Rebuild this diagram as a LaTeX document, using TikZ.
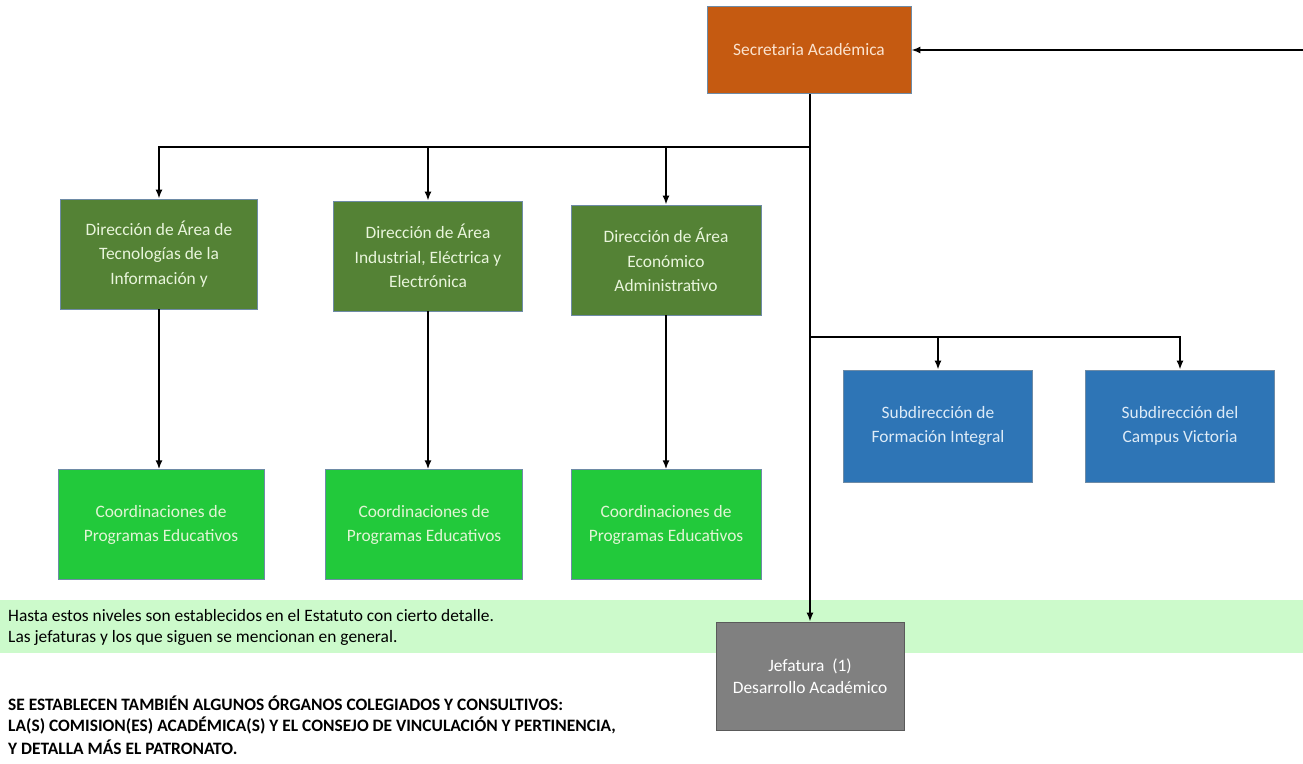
\documentclass[tikz,border=0pt]{standalone}
\usepackage{fontspec}
\setmainfont{Carlito}
\usetikzlibrary{arrows.meta, positioning, calc}
\definecolor{secorange}{HTML}{C55A11}
\definecolor{secfont}{HTML}{FBE3CF}
\definecolor{dirgreen}{HTML}{548235}
\definecolor{dirfont}{HTML}{E9F5DC}
\definecolor{coordgreen}{HTML}{22C93B}
\definecolor{coordfont}{HTML}{E2F5D5}
\definecolor{subblue}{HTML}{2E75B6}
\definecolor{subfont}{HTML}{DDEBF7}
\definecolor{jefgray}{HTML}{808080}
\definecolor{bandgreen}{HTML}{CCFACB}
\definecolor{boxedge}{HTML}{6E8BA6}

\begin{document}
\begin{tikzpicture}[x=1pt, y=-1pt,
        box/.style={draw=boxedge, line width=0.7pt, align=center, inner sep=0pt, font=\fontsize{17.4}{24.5}\selectfont},
        secbox/.style={box, fill=secorange, text=secfont, minimum width=204pt, minimum height=87pt},
        dirbox/.style={box, fill=dirgreen, text=dirfont, minimum height=110pt},
        coordbox/.style={box, fill=coordgreen, text=coordfont, minimum height=110pt},
        subbox/.style={box, fill=subblue, text=subfont, minimum width=189pt, minimum height=112pt},
        jefbox/.style={box, draw=jefgray!70!black, fill=jefgray, text=white, minimum width=188pt, minimum height=108pt, font=\fontsize{17.4}{22}\selectfont},
        link/.style={line width=1.8pt, -{Latex[length=9pt, width=7pt]}},
        note/.style={anchor=west, inner sep=0pt, font=\fontsize{17.4}{22}\selectfont}]
        \useasboundingbox (0,0) rectangle (1303,763);

        % band behind the lower part
        \fill [bandgreen] (0,600) rectangle (1303,653);
        \node [note] (n1) at (8,616) {Hasta estos niveles son establecidos en el Estatuto con cierto detalle.};
        \node [note] (n2) at (8,638) {Las jefaturas y los que siguen se mencionan en general.};

        \node [secbox] (sec) at (809,50) {Secretaria Académica};

        \node [dirbox, minimum width=197pt] (d1) at (159,254) {Dirección de Área de\\Tecnologías de la\\Información y};
        \node [dirbox, minimum width=189pt] (d2) at (428,256) {Dirección de Área\\Industrial, Eléctrica y\\Electrónica};
        \node [dirbox, minimum width=190pt] (d3) at (666,260) {Dirección de Área\\Económico\\Administrativo};

        \node [coordbox, minimum width=206pt, below=160pt of d1.south, anchor=north, xshift=2pt] (c1) {Coordinaciones de\\Programas Educativos};
        \node [coordbox, minimum width=197pt, below=158pt of d2.south, anchor=north, xshift=-4pt] (c2) {Coordinaciones de\\Programas Educativos};
        \node [coordbox, minimum width=190pt, below=154pt of d3.south, anchor=north] (c3) {Coordinaciones de\\Programas Educativos};

        \node [subbox] (s1) at (938,426) {Subdirección de\\Formación Integral};
        \node [subbox] (s2) at (1180,426) {Subdirección del\\Campus Victoria};

        \node [jefbox] (jef) at (810,676) {Jefatura~~(1)\\Desarrollo Académico};

        \coordinate (in) at (1303,50);
        \coordinate (b1) at (810,147);
        \coordinate (b2) at (810,337);

        \draw [link] (in) -- (sec.east);
        \draw [link] (sec.south -| jef.north) -- (jef.north);
        \draw [link] (b1) -| (d1.north);
        \draw [link] (b1 -| d2.north) -- (d2.north);
        \draw [link] (b1 -| d3.north) -- (d3.north);
        \draw [link] (d1.south) -- (d1.south |- c1.north);
        \draw [link] (d2.south) -- (d2.south |- c2.north);
        \draw [link] (d3.south) -- (d3.south |- c3.north);
        \draw [link] (b2) -| (s2.north);
        \draw [link] (b2 -| s1.north) -- (s1.north);

        \node [note, font=\bfseries\fontsize{17.4}{22}\selectfont] (t1) at (8,703) {SE ESTABLECEN TAMBIÉN ALGUNOS ÓRGANOS COLEGIADOS Y CONSULTIVOS:};
        \node [note, font=\bfseries\fontsize{17.4}{22}\selectfont] (t2) at (8,725) {LA(S) COMISION(ES) ACADÉMICA(S) Y EL CONSEJO DE VINCULACIÓN Y PERTINENCIA,};
        \node [note, font=\bfseries\fontsize{17.4}{22}\selectfont] (t3) at (8,747) {Y DETALLA MÁS EL PATRONATO.};
\end{tikzpicture}
\end{document}
